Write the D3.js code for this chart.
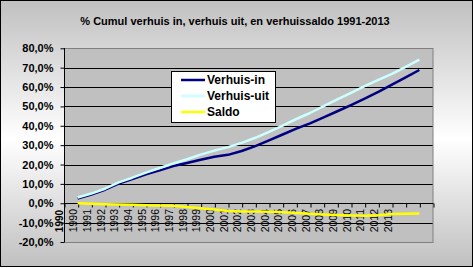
<!DOCTYPE html>
<html>
<head>
<meta charset="utf-8">
<script src="https://cdn.jsdelivr.net/npm/d3@7"></script>
<style>
  html, body { margin: 0; padding: 0; background: #fff; }
  svg { display: block; font-family: "Liberation Sans", Arial, sans-serif; }
</style>
</head>
<body>
<svg id="chart" width="473" height="268"></svg>
<script>
// Year labels shown under the category axis
const yearLabels = ["1990","1991","1992","1993","1994","1995","1996","1997","1998","1999",
  "2000","2001","2002","2003","2004","2005","2006","2007","2008","2009",
  "2010","2011","2012","2013"];

// Cumulative percentages per period
const verhuisIn  = [2.4, 4.5, 7.0, 10.2, 12.5, 15.0, 17.0, 19.2, 20.8, 22.5, 24.0, 25.0, 27.0,
  29.5, 32.5, 35.5, 38.5, 41.2, 44.3, 47.5, 50.7, 54.0, 57.5, 61.2, 65.0, 68.8];
const verhuisUit = [3.0, 5.0, 7.5, 10.8, 13.2, 15.8, 18.2, 20.5, 22.7, 25.1, 27.2, 29.0, 31.2,
  33.8, 36.9, 40.1, 43.5, 46.6, 50.1, 53.6, 57.0, 60.5, 63.7, 66.8, 70.4, 74.1];
const saldo      = [0.0, -0.3, -0.5, -0.6, -0.8, -1.0, -1.1, -1.3, -1.9, -2.6, -3.2, -4.0, -4.2,
  -4.3, -4.4, -4.6, -5.0, -5.4, -5.8, -6.1, -6.3, -6.5, -6.2, -5.6, -5.4, -5.3];

const yTicks = [-20, -10, 0, 10, 20, 30, 40, 50, 60, 70, 80];
const seriesNames = ["Verhuis-in", "Verhuis-uit", "Saldo"];
const seriesColors = ["#000080", "#ccffff", "#ffff00"];
const title = "% Cumul verhuis in, verhuis uit, en verhuissaldo 1991-2013";

const svg = d3.select("#chart");
const W = 473, H = 268;
const plot = { left: 64, right: 433, top: 48.3, bottom: 242 };
const slotCount = 27;

// Chart area: vertical grey-white-grey gradient with black frame
const defs = svg.append("defs");
const grad = defs.append("linearGradient").attr("id", "bg")
  .attr("x1", 0).attr("y1", 0).attr("x2", 0).attr("y2", 1);
grad.append("stop").attr("offset", "0%").attr("stop-color", "#c0c0c0");
grad.append("stop").attr("offset", "52%").attr("stop-color", "#ffffff");
grad.append("stop").attr("offset", "100%").attr("stop-color", "#c0c0c0");

svg.append("rect").attr("x", 0.5).attr("y", 0.5).attr("width", W - 1).attr("height", H - 2)
  .attr("fill", "url(#bg)").attr("stroke", "#000").attr("stroke-width", 1);

// Scales
const x = d3.scaleLinear().domain([0, slotCount]).range([plot.left, plot.right]);
const y = d3.scaleLinear().domain([-20, 80]).range([plot.bottom, plot.top]);

// Plot area
svg.append("rect")
  .attr("x", plot.left).attr("y", plot.top)
  .attr("width", plot.right - plot.left).attr("height", plot.bottom - plot.top)
  .attr("fill", "#c0c0c0");

// Horizontal gridlines
svg.append("g").selectAll("line")
  .data(yTicks.filter(v => v > -20 && v < 80))
  .join("line")
  .attr("x1", plot.left).attr("x2", plot.right)
  .attr("y1", d => Math.round(y(d)) + 0.5).attr("y2", d => Math.round(y(d)) + 0.5)
  .attr("stroke", "#000").attr("stroke-width", 1);

// Plot area border
svg.append("rect")
  .attr("x", plot.left + 0.5).attr("y", Math.round(plot.top) + 0.5)
  .attr("width", plot.right - plot.left - 0.5).attr("height", Math.round(plot.bottom) - Math.round(plot.top))
  .attr("fill", "none").attr("stroke", "#808080").attr("stroke-width", 1);

// Value axis
const yAxis = d3.axisLeft(y).tickValues(yTicks).tickSize(4).tickPadding(7)
  .tickFormat(d => d.toFixed(1).replace(".", ",") + "%");
const gy = svg.append("g").attr("transform", `translate(${plot.left + 0.5},0)`).call(yAxis);
gy.select(".domain").attr("stroke", "#000").attr("d", `M0,${Math.round(plot.top)}V${Math.round(plot.bottom)}`);
gy.selectAll(".tick line").attr("stroke", "#000");
gy.selectAll(".tick text").attr("font-size", 11).attr("font-weight", "bold").attr("fill", "#000")
  .attr("font-family", "'Liberation Sans', Arial, sans-serif");

// Category axis at the zero line
const xAxis = d3.axisBottom(x).tickValues(d3.range(0, slotCount + 1)).tickSize(4).tickFormat("");
const gx = svg.append("g").attr("transform", `translate(0.5,${Math.round(y(0)) + 0.5})`).call(xAxis);
gx.select(".domain").attr("stroke", "#000").attr("d", `M${plot.left},0H${plot.right}`);
gx.selectAll(".tick line").attr("stroke", "#000");

// Rotated year labels
svg.append("g").selectAll("text")
  .data(yearLabels)
  .join("text")
  .attr("transform", (d, i) => `translate(${x(i + 1) - 4},209) rotate(-90)`)
  .attr("text-anchor", "end")
  .attr("dy", "0.35em")
  .attr("font-size", 10.5)
  .attr("fill", "#000")
  .text(d => d);

// Axis caption next to the value axis
svg.append("text")
  .attr("transform", "translate(59,221) rotate(-90)")
  .attr("text-anchor", "middle")
  .attr("dy", "0.35em")
  .attr("font-size", 10)
  .attr("font-weight", "bold")
  .text(yearLabels[0]);

// Series lines
const line = d3.line().x((d, i) => x(i + 1)).y(d => y(d));
[verhuisIn, verhuisUit, saldo].forEach((values, k) => {
  svg.append("path")
    .datum(values)
    .attr("d", line)
    .attr("fill", "none")
    .attr("stroke", seriesColors[k])
    .attr("stroke-width", 2.5)
    .attr("stroke-linejoin", "round");
});

// Title
svg.append("text")
  .attr("x", 235).attr("y", 25)
  .attr("text-anchor", "middle")
  .attr("font-size", 11).attr("font-weight", "bold")
  .text(title);

// Legend
const lg = svg.append("g");
lg.append("rect").attr("x", 171.5).attr("y", 71.5).attr("width", 104).attr("height", 51)
  .attr("fill", "#fff").attr("stroke", "#000");
seriesNames.forEach((name, k) => {
  const ly = 80 + k * 16;
  lg.append("line").attr("x1", 181).attr("x2", 205).attr("y1", ly).attr("y2", ly)
    .attr("stroke", seriesColors[k]).attr("stroke-width", 2.5);
  lg.append("text").attr("x", 207).attr("y", ly).attr("dy", "0.35em")
    .attr("font-size", 12).attr("font-weight", "bold").text(name);
});
</script>
</body>
</html>
